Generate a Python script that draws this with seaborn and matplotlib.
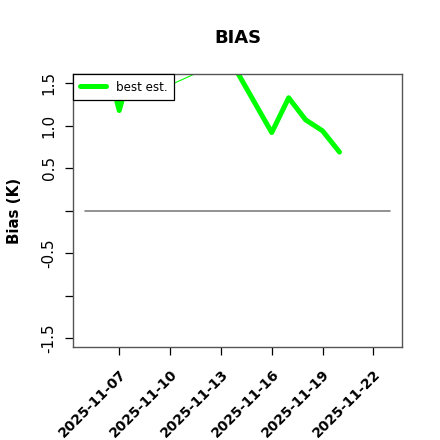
import pandas as pd
import matplotlib
matplotlib.use("Agg")
import matplotlib.pyplot as plt
import matplotlib.dates as mdates
import seaborn as sns

# values
best_dates = pd.to_datetime([
    "2025-11-06", "2025-11-07", "2025-11-08", "2025-11-09", "2025-11-10",
    "2025-11-11", "2025-11-12", "2025-11-13", "2025-11-14", "2025-11-15",
    "2025-11-16", "2025-11-17", "2025-11-18", "2025-11-19", "2025-11-20",
])
best_est = [1.95, 1.18, 1.90, 2.05, 2.10, 2.00, 1.95, 1.85, 1.62, 1.27,
            0.92, 1.33, 1.07, 0.94, 0.69]

thin_dates = pd.to_datetime(["2025-11-09", "2025-11-10", "2025-11-11", "2025-11-12"])
thin_vals = [1.40, 1.48, 1.57, 1.66]

zero_dates = pd.to_datetime(["2025-11-05", "2025-11-23"])
zero_vals = [0.0, 0.0]

xtick_dates = pd.to_datetime(["2025-11-07", "2025-11-10", "2025-11-13",
                              "2025-11-16", "2025-11-19", "2025-11-22"])
ytick_vals = [-1.5, -1.0, -0.5, 0.0, 0.5, 1.0, 1.5]
ytick_labels = ["-1.5", "", "-0.5", "", "0.5", "1.0", "1.5"]

sns.set_style("white")
plt.rcParams["font.family"] = ["DejaVu Sans"]
plt.rcParams["text.color"] = "black"
plt.rcParams["xtick.color"] = "black"
plt.rcParams["ytick.color"] = "black"
plt.rcParams["axes.labelcolor"] = "black"

fig = plt.figure(figsize=(4.4, 4.4), dpi=100)
ax = fig.add_axes([0.1667, 0.2107, 0.7477, 0.6211])

best_df = pd.DataFrame({"date": best_dates, "bias": best_est})
thin_df = pd.DataFrame({"date": thin_dates, "bias": thin_vals})
zero_df = pd.DataFrame({"date": zero_dates, "bias": zero_vals})

sns.lineplot(data=zero_df, x="date", y="bias", color="#7f7f7f", linewidth=1.2, ax=ax)
sns.lineplot(data=thin_df, x="date", y="bias", color="#00ff00", linewidth=0.8, ax=ax)
sns.lineplot(data=best_df, x="date", y="bias", color="#00ff00", linewidth=3.6,
             label="best est.", ax=ax)

ax.set_xlim(pd.Timestamp("2025-11-04 07:00"), pd.Timestamp("2025-11-23 17:00"))
ax.set_ylim(-1.61, 1.61)

ax.set_xticks(xtick_dates)
ax.xaxis.set_major_formatter(mdates.DateFormatter("%Y-%m-%d"))
ax.set_yticks(ytick_vals)
ax.set_yticklabels(ytick_labels, rotation=90, va="center", fontsize=11, color="black")
for lab in ax.get_xticklabels():
    lab.set_rotation(45)
    lab.set_ha("right")
    lab.set_rotation_mode("anchor")
    lab.set_fontweight("bold")
    lab.set_fontsize(10)
    lab.set_color("black")

ax.tick_params(axis="both", which="major", direction="out", length=6,
               width=0.9, color="black", left=True, bottom=True)
ax.tick_params(axis="y", pad=6)
ax.tick_params(axis="x", pad=8)

for sp in ax.spines.values():
    sp.set_visible(True)
    sp.set_color("#555555")
    sp.set_linewidth(1.0)

ax.set_xlabel("")
ax.set_ylabel("Bias (K)", fontweight="bold", fontsize=10.8, labelpad=14, color="black")
ax.set_title("BIAS", fontweight="bold", fontsize=13, pad=22, color="black")

leg = ax.legend(loc="upper left", bbox_to_anchor=(0.0, 1.0), frameon=True,
                fancybox=False, framealpha=1, edgecolor="black",
                fontsize=8.6, borderpad=0.55, handlelength=2.2,
                borderaxespad=0)
leg.get_frame().set_linewidth(0.9)
for t in leg.get_texts():
    t.set_color("black")

fig.savefig("out.png", dpi=100)
